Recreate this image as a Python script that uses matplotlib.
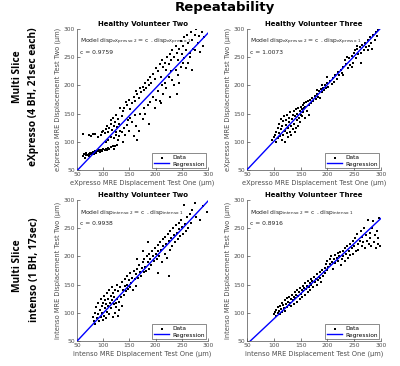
import matplotlib
matplotlib.use("Agg")
import matplotlib.pyplot as plt
import numpy as np

# ---------------- data ----------------
tl_x = [62,64,65,67,68,70,72,73,75,76,78,80,82,84,86,88,90,92,94,96,98,100,103,105,108,110,112,115,118,120,123,126,
        61,72,76,80,85,90,95,98,100,104,106,108,110,112,114,115,117,118,120,122,124,125,127,128,130,132,133,135,137,
        105,110,115,120,125,128,130,135,138,140,142,145,148,150,152,155,158,160,162,165,168,170,
        140,143,146,150,152,155,158,160,162,165,168,170,172,175,178,180,182,185,188,190,192,195,198,
        175,178,180,185,188,190,195,198,200,205,208,210,212,215,218,220,225,228,230,232,235,238,240,242,245,
        200,205,208,210,212,215,218,220,222,225,228,230,232,235,238,240,242,245,248,250,252,255,258,260,262,265,268,270,272,275,278,280,282,285,288,290,293,252,258,262,270,248,255,266,276]
tl_y = [74,78,72,76,80,77,75,79,81,78,80,82,79,83,81,84,83,85,82,86,84,87,85,88,86,89,87,90,92,88,93,95,
        113,112,110,114,113,108,112,118,120,115,122,128,118,125,132,138,121,143,128,135,117,148,126,140,132,160,120,145,155,
        100,104,108,106,112,104,110,118,100,125,112,130,138,120,142,135,110,148,128,104,120,150,
        160,170,165,175,158,168,180,172,190,185,178,195,188,198,192,205,196,210,200,215,205,220,212,
        140,160,150,165,132,170,180,160,175,190,172,168,200,185,205,195,215,180,225,210,200,228,185,218,205,
        230,225,238,215,245,232,240,228,250,238,255,245,262,250,270,258,245,265,278,255,270,285,262,290,275,250,295,280,265,290,300,275,288,260,295,270,285,240,230,240,228,232,248,258,262]

tr_x = [97,100,102,104,105,107,108,110,110,112,113,114,115,116,117,118,119,120,121,122,123,124,125,126,127,128,129,130,131,132,133,134,135,136,137,138,139,140,141,142,143,144,145,146,147,148,149,150,151,152,153,154,155,156,157,158,159,160,162,164,165,166,168,170,172,174,176,178,180,182,184,186,188,190,192,194,196,198,200,202,205,208,210,212,215,218,220,222,225,228,230,232,235,238,240,242,245,248,250,252,254,256,258,260,262,265,268,270,272,275,278,280,282,285,288,290,292,295,283,275,262,245,255,236,230,200,190,180]
tr_y = [103,108,112,100,118,106,125,115,132,110,140,122,103,128,136,112,145,120,100,130,138,115,148,125,108,135,142,118,152,128,112,140,147,122,155,132,118,145,158,125,138,150,128,160,142,135,155,148,162,158,145,165,152,160,168,142,162,170,155,172,148,166,175,168,178,172,182,176,185,180,190,178,193,188,196,192,200,195,204,198,208,202,214,206,218,212,224,218,228,222,232,245,238,230,248,236,252,240,258,262,248,265,255,268,258,272,262,275,268,280,270,285,276,290,280,295,288,298,265,262,240,232,270,250,218,215,200,192]

bl_x = [80,82,84,85,87,88,90,91,92,93,95,96,97,98,99,100,101,102,103,104,105,106,107,108,109,110,111,112,113,114,115,116,117,118,119,120,121,122,123,124,125,126,127,128,129,130,131,132,134,135,136,138,140,141,142,144,145,146,148,150,151,152,154,155,156,158,160,162,163,165,167,168,170,172,174,175,177,178,180,182,183,185,187,188,190,192,194,195,197,198,200,202,204,205,207,208,210,212,214,215,217,218,220,222,224,225,227,228,230,232,234,235,237,238,240,242,244,245,247,248,250,252,255,256,258,260,262,265,268,270,275,278,285,290,298,225,205,185,175,165]
bl_y = [93,85,100,80,110,90,98,118,85,105,92,125,112,100,88,118,130,95,108,122,90,115,135,102,125,112,140,98,118,130,108,145,122,92,135,115,128,100,140,118,110,150,125,95,138,120,105,145,128,112,155,140,132,160,148,138,165,150,142,158,145,170,152,162,140,175,160,168,148,178,162,185,172,165,180,190,172,195,182,175,200,190,178,205,195,185,210,200,192,215,205,195,220,210,200,225,212,190,230,218,205,235,222,198,240,228,212,245,232,218,250,238,225,255,242,230,260,248,236,265,252,240,292,258,245,270,250,275,260,282,295,270,265,290,278,165,170,225,210,195]

br_x = [100,102,104,105,107,108,110,111,112,114,115,116,118,119,120,121,123,124,125,127,128,129,130,132,133,134,136,137,138,139,140,142,143,144,145,147,148,149,150,152,153,154,155,157,158,159,160,162,163,164,165,167,168,169,170,172,174,175,176,178,180,181,182,184,186,187,188,190,191,193,195,196,198,199,200,202,204,205,207,208,210,212,214,215,217,219,220,222,224,225,227,229,230,232,233,235,237,238,240,242,243,245,247,248,250,252,253,255,257,258,260,262,264,265,267,268,270,272,274,275,277,279,280,282,284,285,287,289,290,292,294,295,296,298]
br_y = [97,102,95,105,100,110,103,98,112,106,118,101,114,108,122,104,116,126,110,120,114,128,118,124,112,132,122,128,116,136,126,132,120,140,130,136,124,144,134,140,128,148,138,144,132,152,142,148,136,156,146,152,140,160,150,156,146,164,154,160,150,168,158,164,172,162,154,176,166,172,180,170,186,176,192,182,196,186,200,190,178,195,202,188,198,206,192,200,208,185,196,210,200,215,192,205,218,198,210,222,202,215,228,205,218,232,210,240,222,212,228,245,218,235,225,250,215,238,228,265,222,242,232,218,250,262,225,238,215,245,222,232,268,218]

c_values = [0.9759, 1.0073, 0.9938, 0.8916]
panel_titles = ["Healthy Volunteer Two", "Healthy Volunteer Three",
                "Healthy Volunteer Two", "Healthy Volunteer Three"]
seq_names = ["eXpresso", "eXpresso", "intenso", "intenso"]
ticks = [50, 100, 150, 200, 250, 300]

xs = [tl_x, tr_x, bl_x, br_x]
ys = [tl_y, tr_y, bl_y, br_y]

# ---------------- figure ----------------
W, H = 400, 366
fig = plt.figure(figsize=(W / 100, H / 100), dpi=100)
fig.patch.set_facecolor("white")

def px_axes(l, t, r, b):
    return fig.add_axes([l / W, 1 - b / H, (r - l) / W, (b - t) / H])

boxes = [(77, 29, 208, 170), (247, 29, 381, 170),
         (77, 200, 208, 341), (247, 200, 381, 341)]
grey = "#4d4d4d"

for i in range(4):
    ax = px_axes(*boxes[i])
    ax.scatter(xs[i], ys[i], s=1.6, c="black", marker="s", linewidths=0, label="Data", zorder=3)
    lx = np.array([50, 300])
    ax.plot(lx, c_values[i] * lx, color="#0000ff", lw=1.0, label="Regression", zorder=4)
    ax.set_xlim(50, 300)
    ax.set_ylim(50, 300)
    ax.set_xticks(ticks)
    ax.set_yticks(ticks)
    ax.tick_params(direction="in", length=2, width=0.5, labelsize=4.3, colors=grey, pad=1.5)
    for s in ["top", "right"]:
        ax.spines[s].set_visible(False)
    for s in ["left", "bottom"]:
        ax.spines[s].set_color(grey)
        ax.spines[s].set_linewidth(0.5)
    n = seq_names[i]
    ax.set_xlabel(f"{n} MRE Displacement Test One (\u03bcm)", fontsize=4.8, color=grey, labelpad=2)
    ax.set_ylabel(f"{n} MRE Displacement Test Two (\u03bcm)", fontsize=4.8, color=grey, labelpad=1.5)
    ax.set_title(panel_titles[i], fontsize=5, fontweight="bold", pad=2.5)
    ax.text(0.02, 0.91,
            r"Model disp$_{\mathrm{%s\ 2}}$ = c . disp$_{\mathrm{%s\ 1}}$" % (n, n),
            transform=ax.transAxes, fontsize=4.3, color="#222222", va="center")
    ax.text(0.02, 0.83, f"c = {c_values[i]:.4f}", transform=ax.transAxes,
            fontsize=4.3, color="#222222", va="center")
    leg = ax.legend(loc="lower right", fontsize=4.2, frameon=True, fancybox=False,
                    borderpad=0.3, handlelength=2.6, handletextpad=0.5,
                    labelspacing=0.2, markerscale=1.5, borderaxespad=0.3)
    leg.get_frame().set_edgecolor("#333333")
    leg.get_frame().set_linewidth(0.5)

fig.text(225 / W, 1 - 8 / H, "Repeatability", ha="center", va="center",
         fontsize=9.5, fontweight="bold", family="DejaVu Sans")

lab_font = dict(fontsize=7.3, fontweight="bold", family="Open Sans",
                rotation=90, ha="center", va="center")
fig.text(18 / W, 1 - 77 / H, "Multi Slice", **lab_font)
fig.text(34 / W, 1 - 97 / H, "eXpresso (4 BH, 21sec each)", **lab_font)
fig.text(18 / W, 1 - 266 / H, "Multi Slice", **lab_font)
fig.text(34 / W, 1 - 270 / H, "intenso (1 BH, 17sec)", **lab_font)

fig.savefig("out.png", dpi=100)
